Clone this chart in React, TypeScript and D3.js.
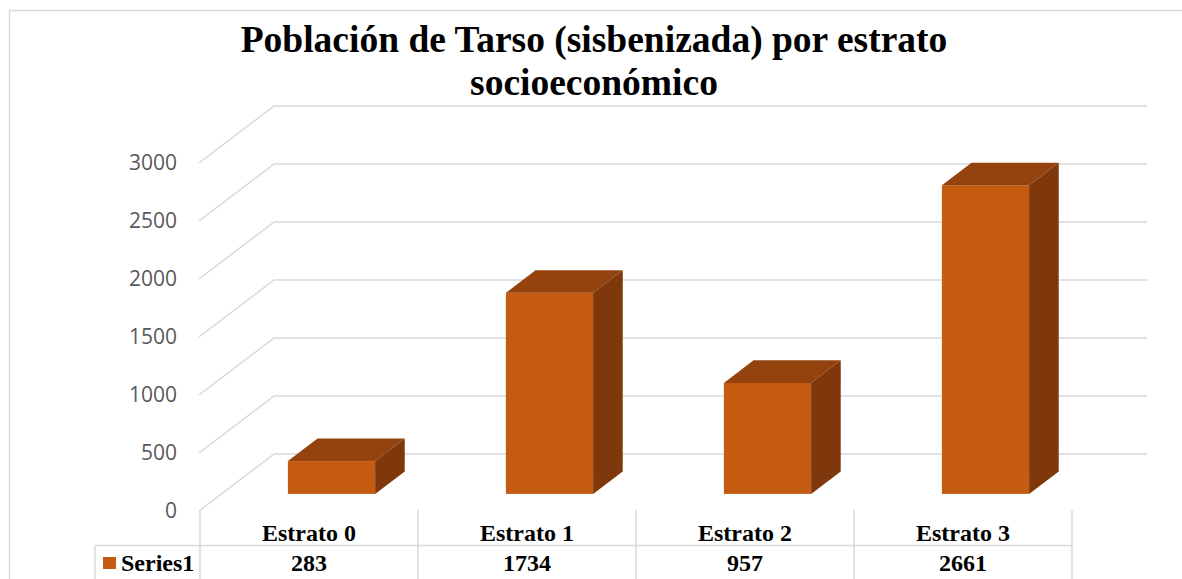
import React from 'react';
import * as d3 from 'd3';

const categories = ['Estrato 0', 'Estrato 1', 'Estrato 2', 'Estrato 3'];
const values = [283, 1734, 957, 2661];
const yTicks = [0, 500, 1000, 1500, 2000, 2500, 3000];
const seriesName = 'Series1';
const titleLines = ['Población de Tarso (sisbenizada) por estrato', 'socioeconómico'];

const width = 1182;
const height = 579;

// projection of the 3D floor: depth goes up and to the right
const depth = { dx: 75, dy: -57 };
const barDepthStart = 0.3; // fraction of floor depth where bar front sits
const barDepthSize = 0.395;

const grid = '#D9D9D9';
const front = '#C55A11';
const topC = '#95430E';
const side = '#7E380B';

const App: React.FC = () => {
  const x = d3.scaleBand<string>().domain(categories).range([200, 1072]).padding(0);
  const y = d3.scaleLinear().domain([0, 3000]).range([511, 163]);

  const bw = x.bandwidth();
  const barW = bw * 0.4;
  const ox = depth.dx * barDepthStart;
  const oy = depth.dy * barDepthStart;
  const bdx = depth.dx * barDepthSize;
  const bdy = depth.dy * barDepthSize;

  const serif = '"Liberation Serif", "Times New Roman", serif';

  return (
    <svg width={width} height={height} style={{ position: 'absolute', left: 0, top: 0, background: '#fff' }}>
      <rect x={9.5} y={10.5} width={1300} height={700} fill="#fff" stroke={grid} strokeWidth={1.5} />

      {/* gridlines: side wall slants + back wall lines */}
      <g stroke={grid} strokeWidth={1.5} fill="none">
        {yTicks.map(t => (
          <polyline
            key={t}
            points={`${x.range()[0] - 1},${y(t)} ${x.range()[0] - 1 + depth.dx},${y(t) + depth.dy} ${x.range()[1] + depth.dx},${y(t) + depth.dy}`}
          />
        ))}
      </g>

      {/* bars */}
      {categories.map((c, i) => {
        const x0 = (x(c) ?? 0) + (bw - barW) / 2 + ox;
        const yb = y(0) + oy;
        const yt = y(values[i]) + oy;
        const x1 = x0 + barW;
        return (
          <g key={c}>
            <rect x={x0} y={yt} width={barW} height={yb - yt} fill={front} />
            <polygon points={`${x0},${yt} ${x0 + bdx},${yt + bdy} ${x1 + bdx},${yt + bdy} ${x1},${yt}`} fill={topC} />
            <polygon points={`${x1},${yt} ${x1 + bdx},${yt + bdy} ${x1 + bdx},${yb + bdy} ${x1},${yb}`} fill={side} />
          </g>
        );
      })}

      {/* y axis labels */}
      {yTicks.map(t => (
        <text
          key={t}
          x={177}
          y={y(t) + 1}
          textAnchor="end"
          dominantBaseline="middle"
          fontFamily='"Open Sans", sans-serif'
          fontSize={21}
          fill="#595959"
        >
          {t}
        </text>
      ))}

      {/* data table */}
      <g stroke={grid} strokeWidth={1.5}>
        <line x1={95} x2={x.range()[1]} y1={545.5} y2={545.5} />
        <line x1={95} x2={95} y1={545.5} y2={height + 2} />
        {[...categories.map(c => x(c) ?? 0), x.range()[1]].map((xv, i) => (
          <line key={i} x1={xv} x2={xv} y1={510} y2={height + 2} />
        ))}
      </g>
      <rect x={103} y={557} width={13} height={12} fill={front} />
      <text x={121} y={571} fontFamily={serif} fontWeight="bold" fontSize={24} fill="#000">
        {seriesName}
      </text>
      {categories.map((c, i) => (
        <g key={c} fontFamily={serif} fontWeight="bold" fontSize={24} fill="#000" textAnchor="middle">
          <text x={(x(c) ?? 0) + bw / 2} y={541}>{c}</text>
          <text x={(x(c) ?? 0) + bw / 2} y={571}>{values[i]}</text>
        </g>
      ))}

      {/* title */}
      {titleLines.map((l, i) => (
        <text
          key={i}
          x={594}
          y={52 + i * 43}
          textAnchor="middle"
          fontFamily={serif}
          fontWeight="bold"
          fontSize={37.5}
          fill="#000"
        >
          {l}
        </text>
      ))}
    </svg>
  );
};

export default App;
